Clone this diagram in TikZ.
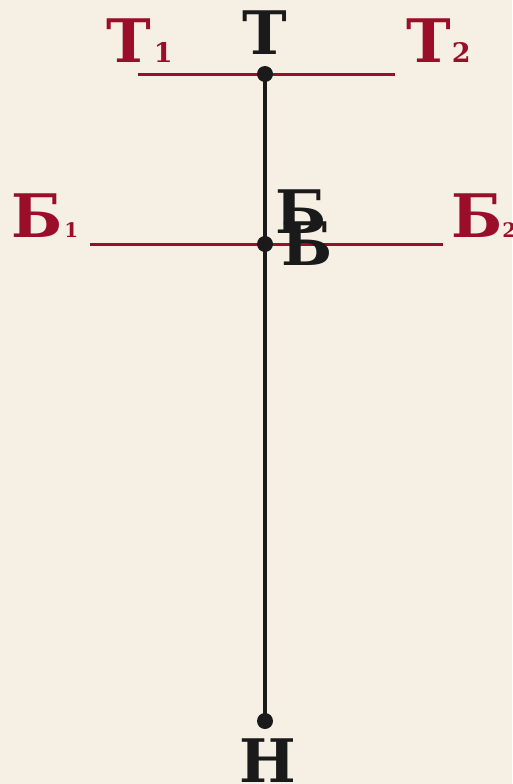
\documentclass[tikz,border=0pt]{standalone}
\usepackage{fontspec}
\setmainfont{DejaVu Serif}
\definecolor{bgc}{RGB}{246,239,227}
\definecolor{redc}{RGB}{155,14,42}
\definecolor{inkc}{RGB}{26,26,26}
\tikzset{
  big/.style={font=\bfseries\fontsize{60}{60}\selectfont, inner sep=0pt},
  redline/.style={draw=redc, line width=3pt},
  axis/.style={draw=inkc, line width=4pt},
  dotc/.style={circle, fill=inkc, minimum size=16pt, inner sep=0pt},
}
\newcommand{\subbig}[1]{{\fontsize{27}{27}\selectfont #1}}
\newcommand{\subsmall}[1]{{\fontsize{20}{20}\selectfont #1}}
\begin{document}
\begin{tikzpicture}[x=1pt,y=-1pt]
\fill[bgc] (0,0) rectangle (512,784);
\useasboundingbox (0,0) rectangle (512,784);
% points
\coordinate (t1) at (138,74);
\coordinate (t2) at (395,74);
\coordinate (b1) at (90,244);
\coordinate (b2) at (443,244);
\draw[redline] (t1) -- (t2);
\draw[redline] (b1) -- (b2);
\node[dotc] (T) at (265,74) {};
\node[dotc] (B) at (265,244) {};
\node[dotc] (N) at (265,721) {};
\draw[axis] (T.center) -- (N.center);
% labels
\node[big, text=inkc, anchor=base] (lT) at (265,55) {Т};
\node[big, text=redc, anchor=base west] (lT1) at (106,63) {Т\hspace{3pt}\subbig{1}};
\node[big, text=redc, anchor=base west] (lT2) at (406,63) {Т\hspace{1pt}\subbig{2}};
\node[big, text=redc, anchor=base west] (lB1) at (11,237) {Б\hspace{2pt}\subsmall{1}};
\node[big, text=redc, anchor=base west] (lB2) at (451,237) {Б\subsmall{2}};
\node[big, text=inkc, anchor=base west] (lBa) at (275,233) {Б};
\node[big, text=inkc, anchor=base west] (lBb) at (281,265) {Б};
\node[big, text=inkc, anchor=base] (lN) at (268,782) {Н};
\end{tikzpicture}
\end{document}
